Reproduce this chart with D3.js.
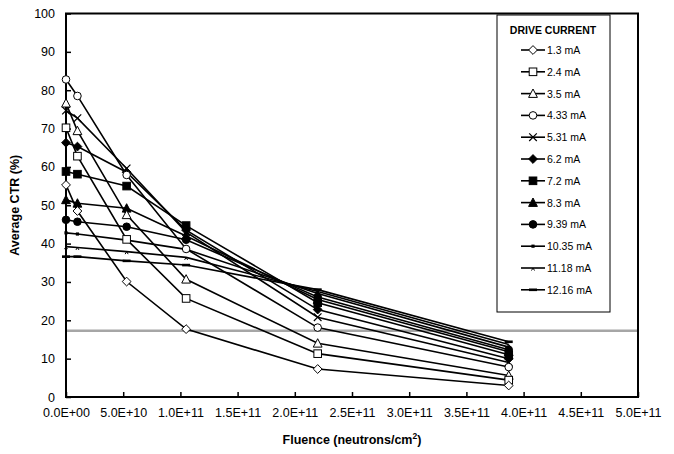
<!DOCTYPE html>
<html>
<head>
<meta charset="utf-8">
<script src="https://cdn.jsdelivr.net/npm/d3@7"></script>
<style>
  body { margin: 0; background: #fff; }
  svg { font-family: "Liberation Sans", Arial, sans-serif; }
</style>
</head>
<body>
<div class="mainviz"></div>
<script>
// fluence values of the measurement points (neutrons/cm2)
var fluence = [0, 1.0e10, 5.3e10, 1.05e11, 2.2e11, 3.87e11];

var currents = ["1.3 mA", "2.4 mA", "3.5 mA", "4.33 mA", "5.31 mA", "6.2 mA",
	"7.2 mA", "8.3 mA", "9.39 mA", "10.35 mA", "11.18 mA", "12.16 mA"];

var ctr_1_3   = [55.3, 48.5, 30.1, 17.7, 7.3, 3.0];
var ctr_2_4   = [70.2, 62.8, 41.1, 25.7, 11.3, 4.4];
var ctr_3_5   = [76.6, 69.4, 47.5, 30.7, 14.0, 5.6];
var ctr_4_33  = [82.8, 78.5, 57.9, 38.6, 18.1, 7.8];
var ctr_5_31  = [74.7, 72.7, 59.6, 43.0, 20.8, 9.0];
var ctr_6_2   = [66.3, 65.3, 58.6, 43.5, 22.8, 10.0];
var ctr_7_2   = [58.8, 58.1, 55.0, 44.7, 24.6, 11.0];
var ctr_8_3   = [51.4, 50.5, 49.2, 42.0, 25.4, 11.8];
var ctr_9_39  = [46.2, 45.7, 44.4, 41.0, 26.1, 12.3];
var ctr_10_35 = [42.8, 42.5, 40.9, 38.5, 27.0, 13.0];
var ctr_11_18 = [39.2, 39.0, 37.9, 36.4, 27.5, 13.7];
var ctr_12_16 = [36.6, 36.6, 35.5, 34.4, 28.0, 14.4];

var seriesValues = [ctr_1_3, ctr_2_4, ctr_3_5, ctr_4_33, ctr_5_31, ctr_6_2,
	ctr_7_2, ctr_8_3, ctr_9_39, ctr_10_35, ctr_11_18, ctr_12_16];

var markerTypes = ["diamondOpen", "squareOpen", "triangleOpen", "circleOpen", "cross", "diamond",
	"square", "triangle", "circle", "dot", "tick", "dash"];

var xTicks = [0, 5e10, 1e11, 1.5e11, 2e11, 2.5e11, 3e11, 3.5e11, 4e11, 4.5e11, 5e11];
var yTicks = [0, 10, 20, 30, 40, 50, 60, 70, 80, 90, 100];
var referenceLevel = 17.3;

var width = 674, height = 454;
var plot = { left: 66, right: 638, top: 13.5, bottom: 397 };

var svg = d3.select(".mainviz").append("svg")
	.attr("width", width)
	.attr("height", height);

var x = d3.scaleLinear().domain([0, 5e11]).range([plot.left, plot.right]);
var y = d3.scaleLinear().domain([0, 100]).range([plot.bottom, plot.top]);

var fmtX = function(d) {
	return d3.format(".1e")(d).replace("e+", "E+0").replace(/E\+0(\d\d)/, "E+$1");
};

// axes
var xAxis = d3.axisBottom(x).tickValues(xTicks).tickFormat(fmtX).tickSize(-5).tickPadding(11);
var yAxis = d3.axisLeft(y).tickValues(yTicks).tickSize(-5).tickPadding(11);

var gx = svg.append("g")
	.attr("transform", "translate(0," + plot.bottom + ")")
	.call(xAxis);
var gy = svg.append("g")
	.attr("transform", "translate(" + plot.left + ",0)")
	.call(yAxis);

[gx, gy].forEach(function(g) {
	g.select(".domain").remove();
	g.selectAll(".tick line").attr("stroke", "#000").attr("stroke-width", 1.5);
	g.selectAll("text").attr("fill", "#000").style("font-size", "12.5px");
});

// plot frame
svg.append("rect")
	.attr("x", plot.left).attr("y", plot.top)
	.attr("width", plot.right - plot.left).attr("height", plot.bottom - plot.top)
	.attr("fill", "none").attr("stroke", "#000").attr("stroke-width", 2);

// gray reference line
svg.append("line")
	.attr("x1", plot.left + 1).attr("x2", plot.right - 1)
	.attr("y1", y(referenceLevel)).attr("y2", y(referenceLevel))
	.attr("stroke", "#a6a6a6").attr("stroke-width", 2.5);

// marker drawing
function drawMarker(g, type, cx, cy) {
	var s = 3.8;
	switch (type) {
		case "diamondOpen":
		case "diamond":
			g.append("path")
				.attr("d", "M" + cx + "," + (cy - s - 0.6) + "L" + (cx + s + 0.6) + "," + cy + "L" + cx + "," + (cy + s + 0.6) + "L" + (cx - s - 0.6) + "," + cy + "Z")
				.attr("fill", type == "diamond" ? "#000" : "#fff").attr("stroke", "#000").attr("stroke-width", 1);
			break;
		case "squareOpen":
		case "square":
			g.append("rect")
				.attr("x", cx - s).attr("y", cy - s).attr("width", 2 * s).attr("height", 2 * s)
				.attr("fill", type == "square" ? "#000" : "#fff").attr("stroke", "#000").attr("stroke-width", 1);
			break;
		case "triangleOpen":
		case "triangle":
			g.append("path")
				.attr("d", "M" + cx + "," + (cy - s - 0.8) + "L" + (cx + s + 0.6) + "," + (cy + s) + "L" + (cx - s - 0.6) + "," + (cy + s) + "Z")
				.attr("fill", type == "triangle" ? "#000" : "#fff").attr("stroke", "#000").attr("stroke-width", 1);
			break;
		case "circleOpen":
		case "circle":
			g.append("circle")
				.attr("cx", cx).attr("cy", cy).attr("r", s)
				.attr("fill", type == "circle" ? "#000" : "#fff").attr("stroke", "#000").attr("stroke-width", 1);
			break;
		case "cross":
			g.append("path")
				.attr("d", "M" + (cx - s) + "," + (cy - s) + "L" + (cx + s) + "," + (cy + s) + "M" + (cx + s) + "," + (cy - s) + "L" + (cx - s) + "," + (cy + s))
				.attr("stroke", "#000").attr("stroke-width", 1.2);
			break;
		case "dot":
			g.append("rect")
				.attr("x", cx - 1.6).attr("y", cy - 1.6).attr("width", 3.2).attr("height", 3.2)
				.attr("fill", "#000");
			break;
		case "tick":
			g.append("path")
				.attr("d", "M" + (cx - 1.5) + "," + (cy + 2.5) + "L" + cx + "," + cy + "L" + (cx + 1.5) + "," + (cy + 2.5))
				.attr("fill", "none").attr("stroke", "#000").attr("stroke-width", 1);
			break;
		case "dash":
			g.append("rect")
				.attr("x", cx - 4).attr("y", cy - 1.3).attr("width", 8).attr("height", 2.6)
				.attr("fill", "#000");
			break;
	}
}

var line = d3.line()
	.x(function(d, i) { return x(fluence[i]); })
	.y(function(d) { return y(d); });

var chartGroup = svg.append("g");

// draw series from highest current to lowest so the open markers stay on top
for (var k = seriesValues.length - 1; k >= 0; k--) {
	chartGroup.append("path")
		.attr("d", line(seriesValues[k]))
		.attr("fill", "none")
		.attr("stroke", "#000")
		.attr("stroke-width", 1.6);
}
for (var k = seriesValues.length - 1; k >= 0; k--) {
	seriesValues[k].forEach(function(v, i) {
		drawMarker(chartGroup, markerTypes[k], x(fluence[i]), y(v));
	});
}

// legend
var legend = svg.append("g");
legend.append("rect")
	.attr("x", 497).attr("y", 15).attr("width", 113).attr("height", 297)
	.attr("fill", "#fff").attr("stroke", "#000").attr("stroke-width", 1);
legend.append("text")
	.attr("x", 553).attr("y", 34)
	.attr("text-anchor", "middle")
	.style("font-size", "10.5px").style("font-weight", "bold")
	.text("DRIVE CURRENT");

currents.forEach(function(c, i) {
	var ly = 50 + i * 21.8;
	legend.append("line")
		.attr("x1", 521).attr("x2", 545).attr("y1", ly).attr("y2", ly)
		.attr("stroke", "#000").attr("stroke-width", 1.6);
	drawMarker(legend, markerTypes[i], 533, ly);
	legend.append("text")
		.attr("x", 547).attr("y", ly + 4)
		.style("font-size", "10.5px")
		.text(c);
});

// axis titles
var xt = svg.append("text")
	.attr("x", 352).attr("y", 444)
	.attr("text-anchor", "middle")
	.style("font-size", "12.5px").style("font-weight", "bold");
xt.append("tspan").text("Fluence (neutrons/cm");
xt.append("tspan").attr("dy", -5).style("font-size", "8.5px").text("2");
xt.append("tspan").attr("dy", 5).text(")");

svg.append("text")
	.attr("transform", "translate(19," + ((plot.top + plot.bottom) / 2) + ") rotate(-90)")
	.attr("text-anchor", "middle")
	.style("font-size", "12.5px").style("font-weight", "bold")
	.text("Average CTR (%)");
</script>
</body>
</html>
